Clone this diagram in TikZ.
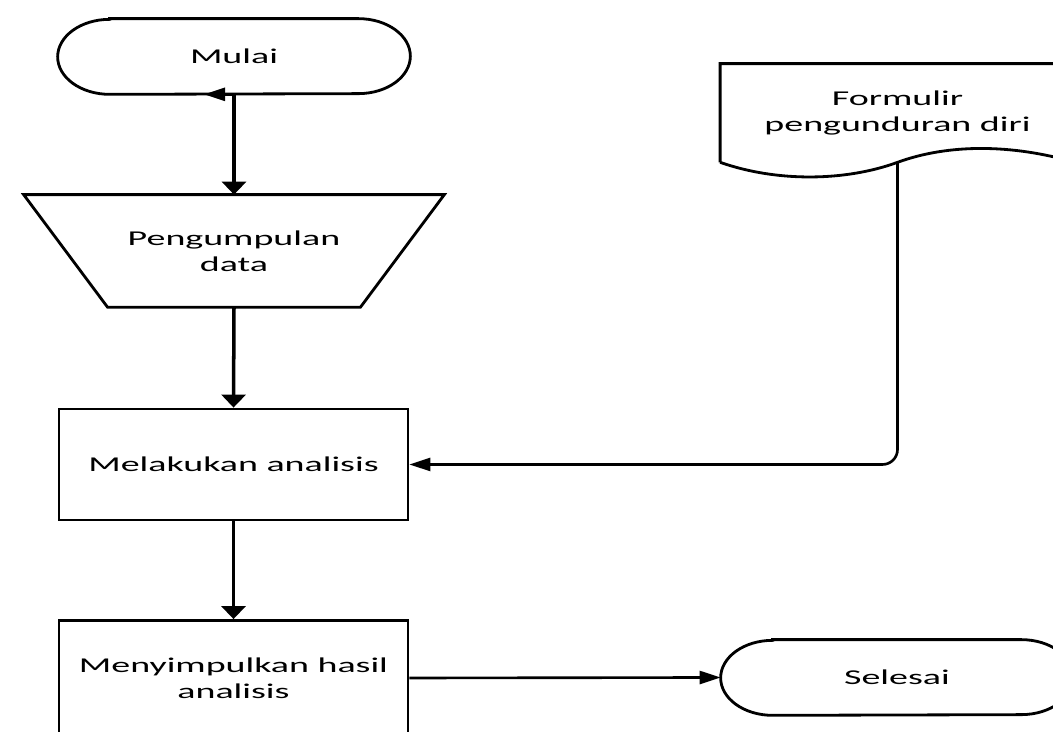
\documentclass[tikz,border=0pt]{standalone}
\usepackage{fontspec}
\setmainfont{Carlito}[FakeStretch=1.8]
\usepackage{tikz}
\usetikzlibrary{
  positioning,
  arrows.meta,
  calc
}
\definecolor{ShapeBorder}{RGB}{0,0,0}
\definecolor{EdgeColor}{RGB}{0,0,0}
\tikzset{
  % Common base for every flowchart node
  flowbase/.style={
    rectangle,
    draw=none,
    align=center,
    inner sep=0pt,
    font=\fontsize{12}{14.8}\selectfont
  },
  % Outline of a shape
  shapeline/.style={
    draw=ShapeBorder,
    line width=1.6pt
  },
  % Process box
  process/.style={flowbase, shapeline, minimum width=6.98cm, minimum height=2.22cm},
  % Start / end (outline drawn with \terminaloutline)
  terminal/.style={flowbase, minimum width=7.04cm, minimum height=1.5cm},
  % Manual operation (outline drawn by hand)
  manualop/.style={flowbase, minimum width=8.4cm, minimum height=2.24cm},
  % Document (outline drawn by hand)
  docshape/.style={flowbase, minimum width=7.08cm, minimum height=1.96cm},
  % Vertical flow
  vflow/.style={
    draw=EdgeColor,
    line width=2pt,
    -{Triangle[length=2.6mm,width=4.8mm]}
  },
  % Horizontal flow
  hflow/.style={
    draw=EdgeColor,
    line width=1.5pt,
    -{Triangle[length=4.2mm,width=2.6mm]}
  }
}
\newcommand{\terminaloutline}[1]{%
  \draw[shapeline] ([xshift=1.04cm]#1.north west) -- ([xshift=-1.04cm]#1.north east)
    arc[start angle=90, end angle=-90, x radius=1.04cm, y radius=0.75cm]
    -- ([xshift=1.04cm]#1.south west)
    arc[start angle=270, end angle=90, x radius=1.04cm, y radius=0.75cm] -- cycle;}

\begin{document}
\begin{tikzpicture}
  \clip (0,0) rectangle (21.06,14.64);

  % Nodes
  \node[terminal] (mulai) at (4.68,13.51) {Mulai};
  \node[manualop] (kumpul) at (4.68,9.62) {Pengumpulan\\data};
  \node[process] (analisis) at (4.67,5.35) {Melakukan analisis};
  \node[process, minimum height=2.3cm] (simpulan) at (4.67,1.08) {Menyimpulkan hasil\\analisis};
  \node[terminal] (selesai) at (17.94,1.09) {Selesai};
  \node[docshape] (formulir) at (17.95,12.38) {Formulir\\pengunduran diri};

  % Outlines
  \terminaloutline{mulai}
  \terminaloutline{selesai}
  \draw[shapeline] (kumpul.north west) -- (kumpul.north east)
    -- ([xshift=-1.68cm]kumpul.south east) -- ([xshift=1.68cm]kumpul.south west) -- cycle;
  \draw[shapeline] (formulir.south west) -- (formulir.north west) -- (formulir.north east)
    -- (formulir.south east)
    .. controls +(-1.24,0.36) and +(1.04,0.38) .. (formulir.south)
    .. controls +(-1.04,-0.38) and +(1.14,-0.4) .. (formulir.south west);

  % Flows
  \coordinate (stub) at ([xshift=-0.6cm]mulai.south);
  \draw[hflow] (mulai.south) -- (stub);
  \draw[vflow] (mulai.south) -- (kumpul.north);
  \draw[vflow] (kumpul.south) -- (analisis.north);
  \draw[vflow] (analisis.south) -- (simpulan.north);
  \draw[hflow] (simpulan.east) -- (selesai.west);
  \draw[hflow, rounded corners=0.3cm] (formulir.south) |- (analisis.east);
\end{tikzpicture}
\end{document}
